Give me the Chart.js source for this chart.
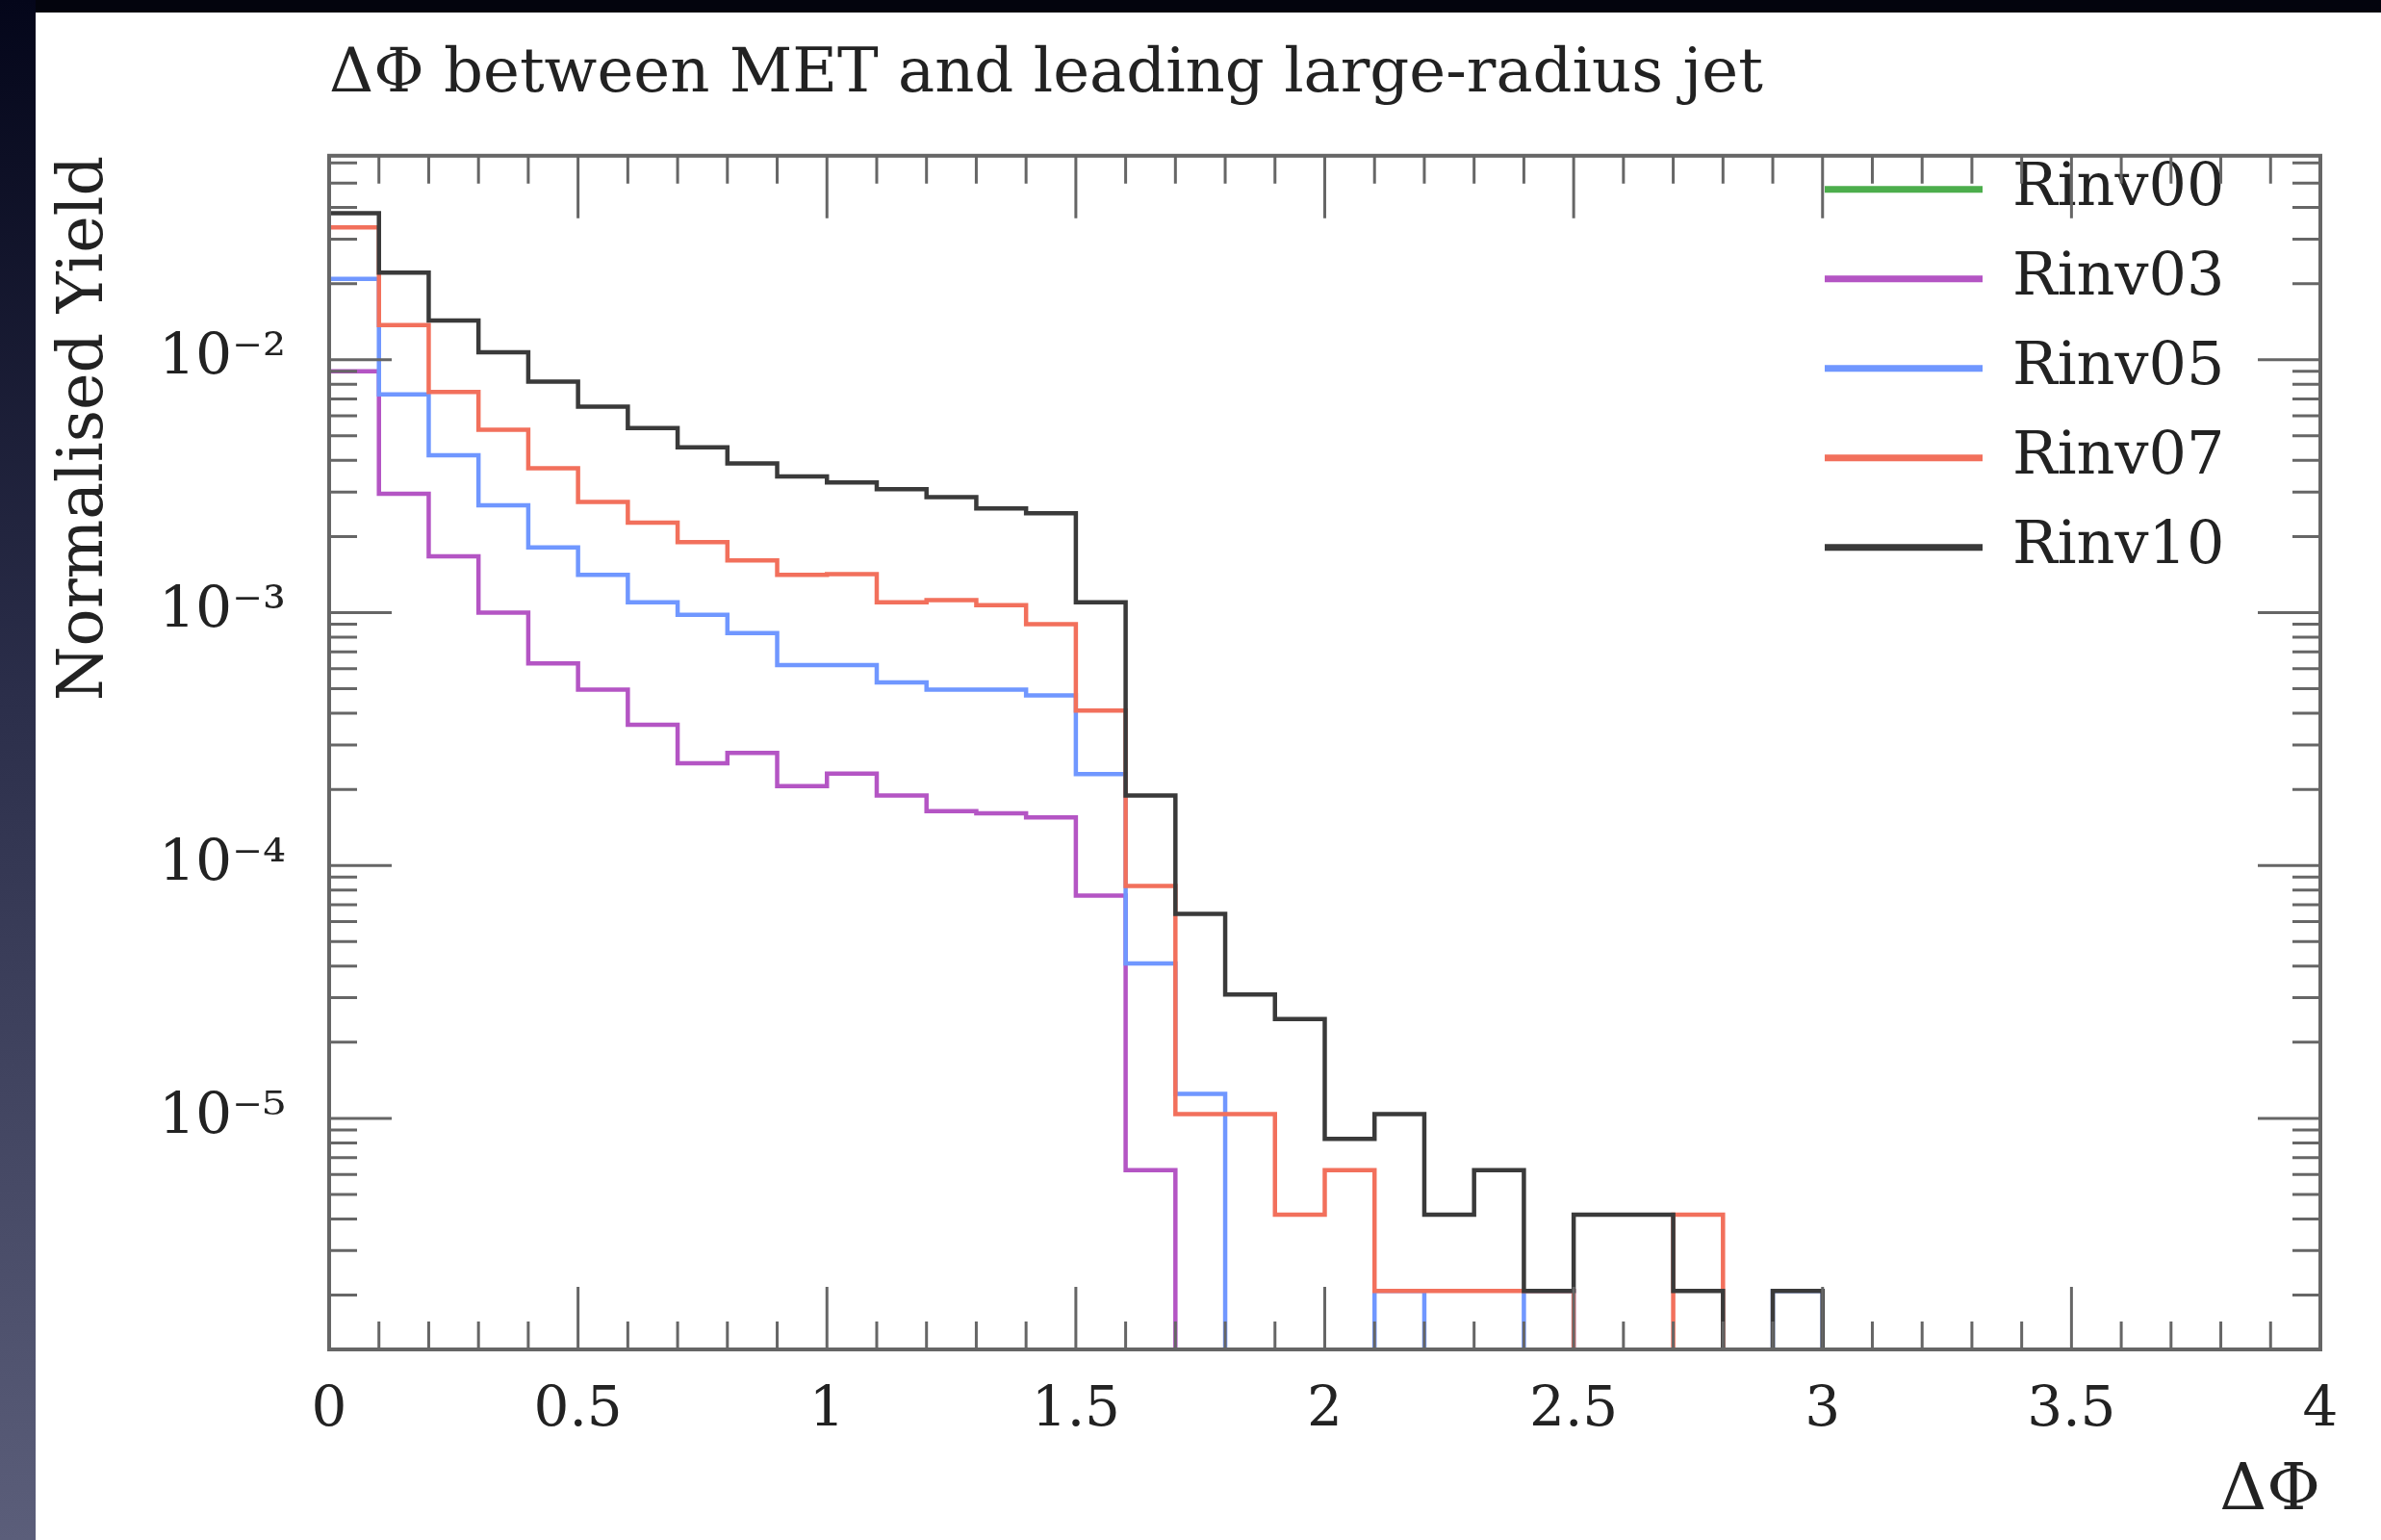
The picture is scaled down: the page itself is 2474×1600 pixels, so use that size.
<!DOCTYPE html>
<html>
<head>
<meta charset="utf-8">
<title>ΔΦ between MET and leading large-radius jet</title>
<script src="https://cdn.jsdelivr.net/npm/chart.js@4.4.1/dist/chart.umd.min.js"></script>
<style>
  html, body { margin: 0; padding: 0; background: #fff; }
  body { width: 2474px; height: 1600px; position: relative; overflow: hidden; }
  #topbar { position: absolute; left: 0; top: 0; width: 2474px; height: 13px; background: #03040d; }
  #sidebar { position: absolute; left: 0; top: 0; width: 37px; height: 1600px;
             background: linear-gradient(to bottom, #04061a 0%, #2b2e4a 45%, #5b5e7a 100%); }
  #chart { position: absolute; left: 0; top: 0; }
</style>
</head>
<body>
<div id="topbar"></div>
<div id="sidebar"></div>
<canvas id="chart" width="2474" height="1600"></canvas>
<script>
// Bin edges of the ΔΦ histogram
const binEdges = [0, 0.1, 0.2, 0.3, 0.4, 0.5, 0.6, 0.7, 0.8, 0.9,
                  1, 1.1, 1.2, 1.3, 1.4, 1.5, 1.6, 1.7, 1.8, 1.9,
                  2, 2.1, 2.2, 2.3, 2.4, 2.5, 2.6, 2.7, 2.8, 2.9,
                  3, 3.1, 3.2, 3.3, 3.4, 3.5, 3.6, 3.7, 3.8, 3.9, 4];

const seriesNames = ['Rinv00', 'Rinv03', 'Rinv05', 'Rinv07', 'Rinv10'];
const seriesColors = ['#4cae4c', '#b455c4', '#7097ff', '#f2705c', '#3a3a3a'];

// Normalised yield per bin, one array per sample
const rinv00 = [0, 0, 0, 0, 0, 0, 0, 0, 0, 0,
                0, 0, 0, 0, 0, 0, 0, 0, 0, 0,
                0, 0, 0, 0, 0, 0, 0, 0, 0, 0,
                0, 0, 0, 0, 0, 0, 0, 0, 0, 0];
const rinv03 = [0.0090, 0.00295, 0.00167, 0.00100, 6.3e-4, 4.96e-4, 3.6e-4, 2.54e-4, 2.79e-4, 2.06e-4,
                2.31e-4, 1.89e-4, 1.64e-4, 1.61e-4, 1.55e-4, 7.6e-5, 6.24e-6, 0, 0, 0,
                0, 0, 0, 0, 0, 0, 0, 0, 0, 0,
                0, 0, 0, 0, 0, 0, 0, 0, 0, 0];
const rinv05 = [0.0209, 0.0073, 0.00419, 0.00266, 0.00181, 0.00141, 0.00110, 9.8e-4, 8.3e-4, 6.2e-4,
                6.2e-4, 5.3e-4, 4.96e-4, 4.96e-4, 4.71e-4, 2.3e-4, 4.1e-5, 1.25e-5, 0, 0,
                0, 2.08e-6, 0, 0, 2.08e-6, 0, 0, 0, 0, 2.08e-6,
                0, 0, 0, 0, 0, 0, 0, 0, 0, 0];
const rinv07 = [0.0334, 0.0137, 0.00746, 0.00529, 0.00372, 0.00274, 0.00227, 0.00190, 0.00161, 0.00141,
                0.00142, 0.00110, 0.00112, 0.00107, 0.00090, 4.1e-4, 8.3e-5, 1.04e-5, 1.04e-5, 4.16e-6,
                6.24e-6, 2.08e-6, 2.08e-6, 2.08e-6, 2.08e-6, 0, 0, 4.16e-6, 0, 0,
                0, 0, 0, 0, 0, 0, 0, 0, 0, 0];
const rinv10 = [0.0380, 0.0221, 0.0143, 0.0107, 0.0082, 0.00653, 0.00537, 0.00451, 0.00389, 0.00346,
                0.00327, 0.00308, 0.00286, 0.00258, 0.00247, 0.00110, 1.89e-4, 6.43e-5, 3.09e-5, 2.47e-5,
                8.3e-6, 1.04e-5, 4.16e-6, 6.24e-6, 2.08e-6, 4.16e-6, 4.16e-6, 2.08e-6, 0, 2.08e-6,
                0, 0, 0, 0, 0, 0, 0, 0, 0, 0];
const seriesValues = [rinv00, rinv03, rinv05, rinv07, rinv10];

const xTickValues = [0, 0.5, 1, 1.5, 2, 2.5, 3, 3.5, 4];
const xTickLabels = ['0', '0.5', '1', '1.5', '2', '2.5', '3', '3.5', '4'];
const yTickValues = [1e-5, 1e-4, 1e-3, 1e-2];
const yTickLabels = ['10⁻⁵', '10⁻⁴', '10⁻³', '10⁻²'];

// empty bins drop below the axis, like the original step histogram
const FLOOR = 1e-9;

function histPoints(vals) {
    const pts = [];
    vals.forEach((v, i) => {
        const lo = binEdges[i], hi = binEdges[i + 1];
        const prev = i > 0 ? vals[i - 1] : v;
        if (v > 0) {
            if (prev === 0) pts.push({x: lo, y: FLOOR});
            pts.push({x: lo, y: v}, {x: hi, y: v});
        } else if (prev > 0) {
            pts.push({x: lo, y: FLOOR}, {x: lo, y: null});
        }
    });
    return pts;
}

const serif = 'DejaVu Serif';
const textColor = '#222';
const frameColor = '#666';

// Frame and inward tick marks on all four sides
const frameTicks = {
    id: 'frameTicks',
    afterDatasetsDraw(chart) {
        const {ctx, chartArea: a, scales: {x, y}} = chart;
        ctx.save();
        ctx.strokeStyle = frameColor;
        ctx.lineWidth = 3;
        ctx.beginPath();
        for (let k = 1; k < binEdges.length - 1; k++) {
            const px = x.getPixelForValue(binEdges[k]);
            const len = k % 5 === 0 ? 65 : 29;
            ctx.moveTo(px, a.bottom); ctx.lineTo(px, a.bottom - len);
            ctx.moveTo(px, a.top); ctx.lineTo(px, a.top + len);
        }
        for (let d = -7; d <= 0; d++) {
            for (let m = 1; m <= 9; m++) {
                const v = m * Math.pow(10, d);
                if (v <= y.min || v >= y.max) continue;
                const py = y.getPixelForValue(v);
                const len = m === 1 ? 65 : 29;
                ctx.moveTo(a.left, py); ctx.lineTo(a.left + len, py);
                ctx.moveTo(a.right, py); ctx.lineTo(a.right - len, py);
            }
        }
        ctx.stroke();
        ctx.lineWidth = 4;
        ctx.strokeRect(a.left, a.top, a.right - a.left, a.bottom - a.top);
        ctx.restore();
    }
};

// Put the legend inside the frame, top right
const legendPlace = {
    id: 'legendPlace',
    afterLayout(chart) {
        const a = chart.chartArea;
        chart.legend.left = a.right - 546;
        chart.legend.top = a.top - 27;
    }
};

new Chart(document.getElementById('chart'), {
    type: 'line',
    data: {
        datasets: seriesNames.map((name, k) => ({
            label: name,
            data: histPoints(seriesValues[k]),
            borderColor: seriesColors[k],
            backgroundColor: seriesColors[k],
            borderWidth: 4.5,
            pointRadius: 0,
            tension: 0,
            fill: false,
            order: seriesNames.length - 1 - k
        }))
    },
    options: {
        responsive: false,
        animation: false,
        events: [],
        layout: {padding: {left: 37, right: 63, top: 13, bottom: 0}},
        plugins: {
            title: {
                display: true,
                text: 'ΔΦ between MET and leading large-radius jet',
                align: 'start',
                fullSize: false,
                color: textColor,
                font: {family: serif, size: 64, weight: 'normal'},
                padding: {top: 27, bottom: 45}
            },
            legend: {
                position: 'chartArea',
                align: 'start',
                labels: {
                    color: textColor,
                    font: {family: serif, size: 62},
                    padding: 31,
                    usePointStyle: true,
                    pointStyleWidth: 164,
                    sort: (a, b) => a.datasetIndex - b.datasetIndex,
                    generateLabels: chart =>
                        Chart.defaults.plugins.legend.labels.generateLabels(chart)
                            .map(l => Object.assign(l, {pointStyle: 'line', lineWidth: 7}))
                }
            },
            tooltip: {enabled: false}
        },
        scales: {
            x: {
                type: 'linear',
                position: 'bottom',
                min: 0,
                max: 4,
                afterFit: s => { s.height = 198; },
                afterBuildTicks: s => { s.ticks = xTickValues.map(v => ({value: v})); },
                grid: {display: false},
                border: {display: false},
                ticks: {
                    color: textColor,
                    font: {family: serif, size: 58},
                    padding: 21,
                    autoSkip: false,
                    maxRotation: 0,
                    callback: v => xTickLabels[xTickValues.indexOf(v)]
                },
                title: {
                    display: true,
                    text: 'ΔΦ',
                    align: 'end',
                    color: textColor,
                    font: {family: serif, size: 68},
                    padding: {top: 0, bottom: 9}
                }
            },
            y: {
                type: 'logarithmic',
                position: 'left',
                min: 1.22e-6,
                max: 0.0641,
                afterFit: s => { s.width = 305; },
                afterBuildTicks: s => { s.ticks = yTickValues.map(v => ({value: v})); },
                grid: {display: false},
                border: {display: false},
                ticks: {
                    color: textColor,
                    font: {family: serif, size: 60},
                    padding: 37,
                    autoSkip: false,
                    callback: v => yTickLabels[yTickValues.indexOf(v)]
                },
                title: {
                    display: true,
                    text: 'Normalised Yield',
                    align: 'end',
                    color: textColor,
                    font: {family: serif, size: 65},
                    padding: {top: 13, bottom: 0}
                }
            }
        }
    },
    plugins: [frameTicks, legendPlace]
});
</script>
</body>
</html>
